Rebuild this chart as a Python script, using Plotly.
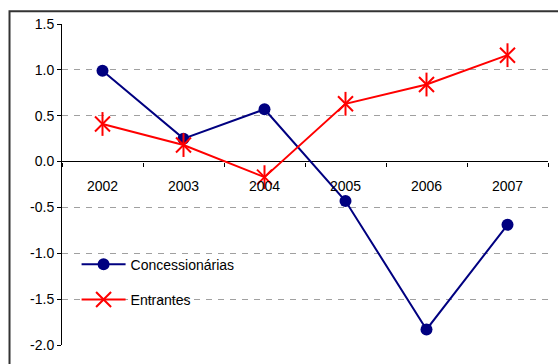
import plotly.graph_objects as go

years = ["2002", "2003", "2004", "2005", "2006", "2007"]
concessionarias = [0.99, 0.25, 0.57, -0.43, -1.83, -0.69]
entrantes = [0.41, 0.18, -0.17, 0.63, 0.84, 1.16]
y_ticks = [1.5, 1.0, 0.5, 0.0, -0.5, -1.0, -1.5, -2.0]

NAVY = "#000080"
RED = "#FF0000"
FONT = "Liberation Sans, Arial, sans-serif"

fig = go.Figure()

fig.add_trace(go.Scatter(
    x=years, y=concessionarias, name="Concessionárias",
    mode="lines+markers", legendgroup="a",
    line=dict(color=NAVY, width=2),
    marker=dict(symbol="circle", size=12, color=NAVY),
))
fig.add_trace(go.Scatter(
    x=years, y=entrantes, name="Entrantes",
    mode="lines+markers", legendgroup="b",
    line=dict(color=RED, width=2),
    marker=dict(symbol="x-thin-open", size=15, color=RED,
                line=dict(color=RED, width=2)),
))
# vertical stroke completes the star marker
fig.add_trace(go.Scatter(
    x=years, y=entrantes, mode="markers", showlegend=False, hoverinfo="skip",
    marker=dict(symbol="line-ns-open", size=17, color=RED,
                line=dict(color=RED, width=2)),
))

y_min, y_max = -2.0, 1.5
zero_pos = (0 - y_min) / (y_max - y_min)

fig.update_layout(
    width=558, height=364,
    margin=dict(l=62, r=10, t=24, b=19),
    paper_bgcolor="white", plot_bgcolor="white",
    font=dict(family=FONT, size=14, color="black"),
    showlegend=True,
    legend=dict(
        x=0.03, y=0.30, xanchor="left", yanchor="top",
        bgcolor="rgba(0,0,0,0)", tracegroupgap=14,
        traceorder="grouped", itemwidth=44,
        font=dict(family=FONT, size=14),
    ),
    xaxis=dict(
        type="category", range=[-0.5, 5.5],
        anchor="free", position=zero_pos,
        showline=False, showgrid=False, zeroline=False,
        ticks="outside", tickson="boundaries", ticklen=4,
        tickcolor="black", ticklabelstandoff=14,
        tickfont=dict(family=FONT, size=14),
    ),
    yaxis=dict(
        range=[y_min, y_max], tickvals=y_ticks,
        ticktext=[f"{v:.1f}" for v in y_ticks],
        showline=True, linecolor="black", linewidth=1,
        ticks="outside", ticklen=4, tickcolor="black",
        showgrid=True, gridcolor="#A0A0A0", gridwidth=1, griddash="6px,6px",
        zeroline=True, zerolinecolor="black", zerolinewidth=1,
        tickfont=dict(family=FONT, size=14),
    ),
    shapes=[dict(
        type="rect", xref="paper", yref="paper",
        x0=-0.108, x1=1.2, y0=-0.2, y1=1.04,
        line=dict(color="#333333", width=2), fillcolor="rgba(0,0,0,0)",
        layer="below",
    )],
)

fig.write_html("out.html")
